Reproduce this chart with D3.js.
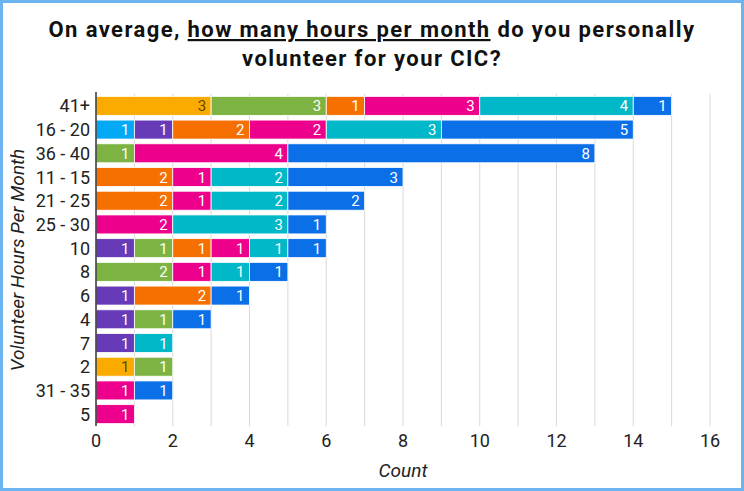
<!DOCTYPE html>
<html><head><meta charset="utf-8">
<script src="https://cdn.jsdelivr.net/npm/d3@7"></script>
<style>
html,body{margin:0;padding:0;background:#fff;}
svg{display:block;font-family:Roboto, "Noto Sans", sans-serif;}
</style></head>
<body><svg id="c" width="744" height="491"></svg>
<script>
const categories = ["41+","16 - 20","36 - 40","11 - 15","21 - 25","25 - 30","10","8","6","4","7","2","31 - 35","5"];
const seriesNames = ["A","B","C","D","E","F","G","H"];
const seriesColors = ["#03a9f4","#fbab00","#673ab7","#7cb342","#f57000","#ec008c","#00b8c8","#0b6fe8"];
const seriesLabelColors = ["#fff","#5a4a00","#fff","#fff","#fff","#fff","#fff","#fff"];
const sA = [0,1,0,0,0,0,0,0,0,0,0,0,0,0];
const sB = [3,0,0,0,0,0,0,0,0,0,0,1,0,0];
const sC = [0,1,0,0,0,0,1,0,1,1,1,0,0,0];
const sD = [3,0,1,0,0,0,1,2,0,1,0,1,0,0];
const sE = [1,2,0,2,2,0,1,0,2,0,0,0,0,0];
const sF = [3,2,4,1,1,2,1,1,0,0,0,0,1,1];
const sG = [4,3,0,2,2,3,1,1,0,0,1,0,0,0];
const sH = [1,5,8,3,2,1,1,1,1,1,0,0,1,0];
const seriesValues = [sA,sB,sC,sD,sE,sF,sG,sH];
const xTicks = [0,2,4,6,8,10,12,14,16];
const title1 = ["On average, ","how many hours per month"," do you personally"];
const title2 = "volunteer for your CIC?";
const xTitle = "Count";
const yTitle = "Volunteer Hours Per Month";

const svg = d3.select("#c");
const W = 744, H = 491;
// border
svg.append("rect").attr("x",1.5).attr("y",1.5).attr("width",W-3).attr("height",H-3)
  .attr("fill","#fff").attr("stroke","#6cb4f0").attr("stroke-width",3);

// title
const t1 = svg.append("text").attr("x",W/2).attr("y",37).attr("text-anchor","middle")
  .attr("font-size",22).attr("font-weight","bold").attr("letter-spacing",1.4).attr("fill","#111");
title1.forEach((s,i)=>{ t1.append("tspan").text(s).attr("text-decoration", i===1?"underline":null); });
svg.append("text").attr("x",W/2).attr("y",66).attr("text-anchor","middle")
  .attr("font-size",22).attr("font-weight","bold").attr("letter-spacing",1.4).attr("fill","#111").text(title2);

const m = {left:96, right:710, top:94, bottom:426};
const x = d3.scaleLinear().domain([0,16]).range([m.left,m.right]);
const y = d3.scaleBand().domain(categories).range([m.top,m.bottom]).paddingInner(0.2).paddingOuter(0.1);

// gridlines every unit
svg.append("g").selectAll("line").data(d3.range(1,17)).join("line")
  .attr("x1",d=>x(d)).attr("x2",d=>x(d)).attr("y1",m.top).attr("y2",m.bottom)
  .attr("stroke","#d9d9d9").attr("stroke-width",1);

// stacked data
const rows = categories.map((c,i)=>{ const o={cat:c}; seriesNames.forEach((s,j)=>o[s]=seriesValues[j][i]); return o; });
const stack = d3.stack().keys(seriesNames)(rows);

const g = svg.append("g");
stack.forEach((layer,j)=>{
  const segs = layer.filter(d=>d[1]-d[0]>0);
  g.selectAll(null).data(segs).join("rect")
    .attr("x",d=>x(d[0])).attr("width",d=>x(d[1])-x(d[0]))
    .attr("y",d=>y(d.data.cat)).attr("height",y.bandwidth())
    .attr("fill",seriesColors[j]).attr("stroke","#fff").attr("stroke-width",0.8);
  g.selectAll(null).data(segs).join("text")
    .attr("x",d=>x(d[1])-5).attr("y",d=>y(d.data.cat)+y.bandwidth()/2+5.5)
    .attr("text-anchor","end").attr("font-size",15).attr("fill",seriesLabelColors[j])
    .text(d=>d[1]-d[0]);
});

// axis line
svg.append("line").attr("x1",x(0)).attr("x2",x(0)).attr("y1",m.top-2).attr("y2",m.bottom)
  .attr("stroke","#333").attr("stroke-width",1.5);

// y labels
svg.append("g").selectAll("text").data(categories).join("text")
  .attr("x",m.left-6).attr("y",d=>y(d)+y.bandwidth()/2+6.5)
  .attr("text-anchor","end").attr("font-size",18).attr("fill","#222").text(d=>d);

// x labels
svg.append("g").selectAll("text").data(xTicks).join("text")
  .attr("x",d=>x(d)).attr("y",447).attr("text-anchor","middle")
  .attr("font-size",18).attr("fill","#222").text(d=>d);

svg.append("text").attr("x",(m.left+m.right)/2).attr("y",477).attr("text-anchor","middle")
  .attr("font-size",19).attr("font-style","italic").attr("fill","#222").text(xTitle);
svg.append("text").attr("transform",`translate(24,${(m.top+m.bottom)/2}) rotate(-90)`)
  .attr("text-anchor","middle").attr("font-size",19).attr("font-style","italic").attr("fill","#222").text(yTitle);
</script></body></html>
